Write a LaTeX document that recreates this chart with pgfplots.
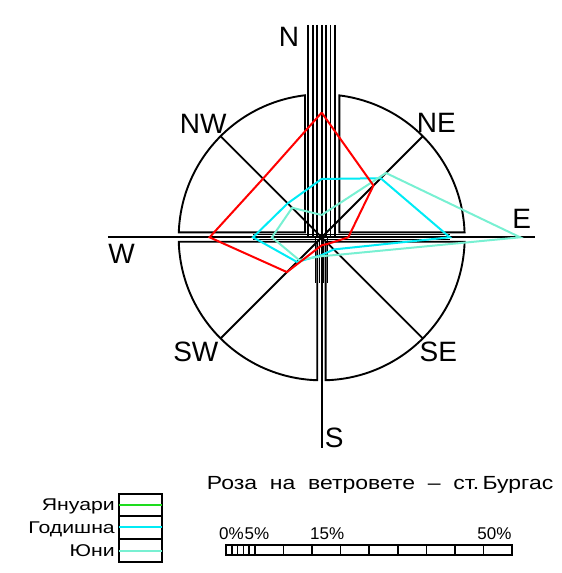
\documentclass[border=0pt]{standalone}
\usepackage{pgfplots}
\pgfplotsset{compat=1.18}
\usepackage{fontspec}
\setmainfont{Liberation Sans}
\newfontfamily\widefont[FakeStretch=1.25]{Liberation Sans}
\newfontfamily\titlefont[FakeStretch=1.21]{Liberation Sans}
\definecolor{jan}{RGB}{255,0,0}
\definecolor{god}{RGB}{0,235,245}
\definecolor{jun}{RGB}{120,240,210}
\definecolor{legjan}{RGB}{30,220,30}
\begin{document}
\begin{tikzpicture}
\begin{axis}[
    x=5.72pt, y=5.72pt,   % 1 unit = 1 %
    xmin=-56.24, xmax=42.01,
    ymin=-58.69, ymax=41.49,
    hide axis, clip=false,
]
\path (rel axis cs:0,0) rectangle (rel axis cs:1,1);

% --- rose frame: four quadrants of the 25 % circle
\begin{scope}[black, line width=1.9pt]
\draw (-2.92,0.874) -- (-24.98,0.874) arc[start angle=178.0, end angle=96.7, radius=25] -- cycle;
\draw (3.08,0.874) -- (24.98,0.874) arc[start angle=2.0, end angle=82.9, radius=25] -- cycle;
\draw (-0.769,-0.769) -- (-24.99,-0.769) arc[start angle=181.76, end angle=268.24, radius=25] -- cycle;
\draw (0.70,-0.769) -- (24.99,-0.769) arc[start angle=-1.76, end angle=-88.4, radius=25] -- cycle;
% axes
\draw (-37.36,0) -- (37.29,0);
\draw (0,37.12) -- (0,-36.84);
\draw (-17.68,17.68) -- (17.68,-17.68);
\draw (17.68,17.68) -- (-17.68,-17.68);
\end{scope}
\begin{scope}[black, line width=1.6pt]
% north bundle
\draw (-2.36,37.12) -- (-2.36,0);
\draw (-1.57,37.12) -- (-1.57,0);
\draw (-0.79,37.12) -- (-0.79,0);
\draw (0.79,37.12) -- (0.79,0);
\draw (1.57,37.12) -- (1.57,0);
\draw (2.36,37.12) -- (2.36,0);
\end{scope}
\begin{scope}[black, line width=1.0pt]
% south bundle
\draw (-1.14,0) -- (-1.14,-8.0);
\draw (-0.38,0) -- (-0.38,-8.0);
\draw (0.38,0) -- (0.38,-8.0);
\draw (1.05,0) -- (1.05,-8.0);
% horizontal bundle
\draw (-12.0,0.45) -- (22.4,0.45);
\draw (-12.0,-0.40) -- (22.4,-0.40);
\end{scope}

% --- direction labels
\begin{scope}[font=\fontsize{28}{30}\selectfont]
\node at (-5.72,35.07) {N};
\node at (-20.7,19.86) {NW};
\node at (20.03,20.02) {NE};
\node at (34.97,3.16) {E};
\node at (-34.97,-2.95) {W};
\node at (-22.0,-20.0) {SW};
\node at (20.4,-20.0) {SE};
\node at (2.19,-35.0) {S};
\end{scope}

% --- wind frequencies, % (N, NE, E, SE, S, SW, W, NW)
\addplot[god, line width=2pt, data cs=polar] coordinates {
    (90,10.2) (45,14.6) (0,22.4) (-45,3.0) (-90,3.1) (-135,6.1) (180,12.0) (135,8.4) (90,10.2)};
\addplot[jun, line width=2pt, data cs=polar] coordinates {
    (90,3.9) (45,15.9) (0,34.7) (-45,4.3) (-90,3.3) (-135,5.6) (180,8.7) (135,7.3) (90,3.9)};
\addplot[jan, line width=2pt, data cs=polar] coordinates {
    (90,21.8) (45,12.8) (0,4.65) (-45,1.6) (-90,1.4) (-135,8.6) (180,19.6) (135,14.5) (90,21.8)};

% --- title
\node[anchor=base west, inner sep=0pt, font=\titlefont\fontsize{19}{21}\selectfont] at (-20.1,-44.07)
    {Роза\ \ на\ \ ветровете\ \ –\ \ ст.\,Бургас};

% --- legend
\begin{scope}[line width=1.8pt]
\draw (-35.5,-48.72) rectangle (-27.94,-44.81);
\draw (-35.5,-52.74) rectangle (-27.94,-48.72);
\draw (-35.5,-56.77) rectangle (-27.94,-52.74);
\draw[legjan, line width=2pt] (-35.5,-46.8) -- (-27.94,-46.8);
\draw[god, line width=2pt] (-35.5,-50.73) -- (-27.94,-50.73);
\draw[jun, line width=2pt] (-35.5,-54.76) -- (-27.94,-54.76);
\end{scope}
\begin{scope}[font=\widefont\fontsize{17}{19}\selectfont]
\node[anchor=base east, inner sep=1pt] at (-35.96,-47.83) {Януари};
\node[anchor=base east, inner sep=1pt] at (-35.96,-51.77) {Годишна};
\node[anchor=base east, inner sep=1pt] at (-35.96,-55.87) {Юни};
\end{scope}

% --- scale bar, 0..50 %
\begin{scope}[line width=1.6pt]
\draw (-16.7,-55.58) rectangle (33.3,-53.76);
\draw (-15.7,-55.58) -- (-15.7,-53.76);
\draw (-14.7,-55.58) -- (-14.7,-53.76);
\draw (-13.7,-55.58) -- (-13.7,-53.76);
\draw (-12.7,-55.58) -- (-12.7,-53.76);
\draw (-11.7,-55.58) -- (-11.7,-53.76);
\draw (-6.7,-55.58) -- (-6.7,-53.76);
\draw (-1.7,-55.58) -- (-1.7,-53.76);
\draw (3.3,-55.58) -- (3.3,-53.76);
\draw (8.3,-55.58) -- (8.3,-53.76);
\draw (13.3,-55.58) -- (13.3,-53.76);
\draw (18.3,-55.58) -- (18.3,-53.76);
\draw (23.3,-55.58) -- (23.3,-53.76);
\draw (28.3,-55.58) -- (28.3,-53.76);
\end{scope}
\begin{scope}[font=\fontsize{17}{19}\selectfont, inner sep=0pt]
\node[anchor=base west] at (-17.95,-52.85) {0\%};
\node[anchor=base west] at (-13.5,-52.85) {5\%};
\node[anchor=base west] at (-2.06,-52.85) {15\%};
\node[anchor=base east] at (33.2,-52.85) {50\%};
\end{scope}
\end{axis}
\end{tikzpicture}
\end{document}
